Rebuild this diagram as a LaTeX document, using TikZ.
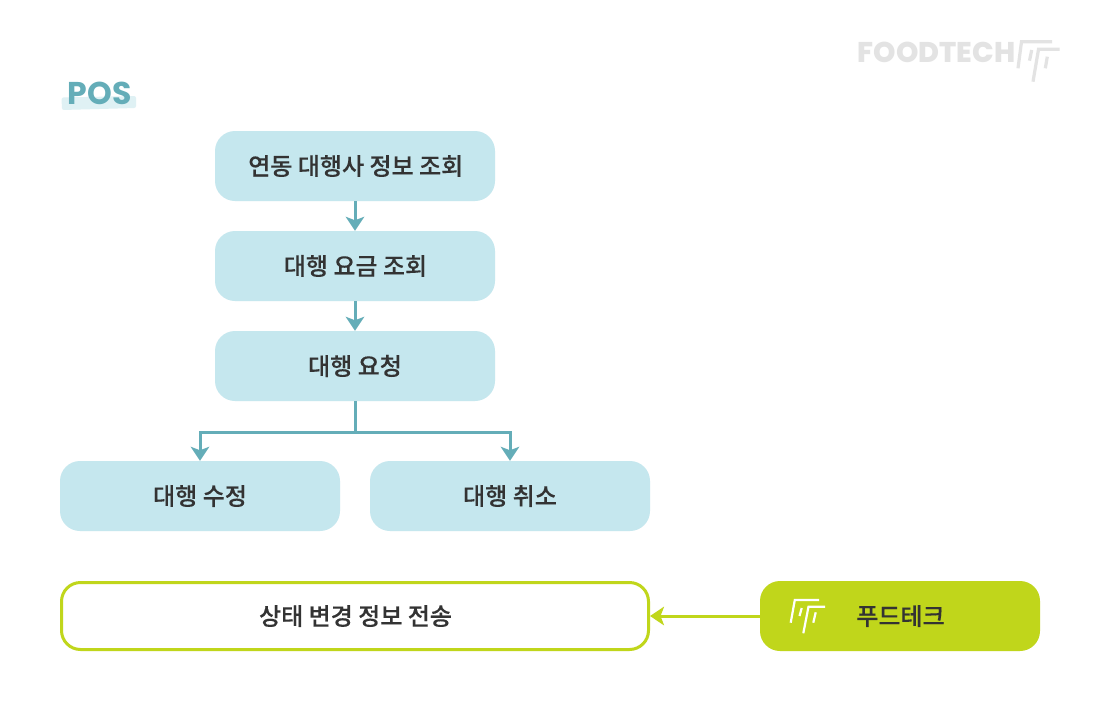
\documentclass[tikz,border=0pt]{standalone}
\usepackage{fontspec}
\usetikzlibrary{arrows.meta}
\newfontfamily\krfont[BoldFont={Noto Sans CJK KR Medium},BoldFeatures={FakeBold=0.2}]{Noto Sans CJK KR}
\newfontfamily\popfont{Poppins}[BoldFont={Poppins Bold}]
\newfontfamily\popheavy{Poppins ExtraBold}
\definecolor{boxblue}{HTML}{C5E7EE}
\definecolor{linkblue}{HTML}{64ADB8}
\definecolor{lime}{HTML}{C0D61B}
\definecolor{logogray}{HTML}{E3E3E3}
\definecolor{ink}{HTML}{333333}
\definecolor{markblue}{HTML}{DFF1F4}
\tikzset{
  x=1pt,y=-1pt,
  flowbox/.style={rectangle,rounded corners=20pt,minimum width=280pt,minimum height=70pt,inner sep=0pt,fill=boxblue,text=ink,font=\krfont\bfseries\fontsize{24pt}{28pt}\selectfont},
  limebox/.style={flowbox,fill=lime},
  outlinebox/.style={flowbox,fill=white,draw=lime,line width=3pt,minimum width=587pt,minimum height=67pt,rounded corners=19pt},
  link/.style={draw=linkblue,line width=3pt},
  linktip/.style={link,-{Stealth[length=14pt,width=18.5pt,inset=3.5pt]}},
  limetip/.style={draw=lime,line width=3pt,-{Stealth[length=14pt,width=18.5pt,inset=3.5pt]}},
  logostroke/.style={line width=#1,line cap=butt}
}
\begin{document}
\begin{tikzpicture}
\useasboundingbox (0,0) rectangle (1100,720);
\fill[white] (0,0) rectangle (1100,720);
% heading
\fill[markblue,rounded corners=2pt] (61.5,97.5) -- (136,96) -- (136,108) -- (62,110) -- cycle;
\node[inner sep=0pt,text=linkblue,font=\popfont\bfseries\fontsize{31.5pt}{34pt}\selectfont] (pos) at (99.5,93.5) {POS};
% logo top right
\node[inner sep=0pt,text=logogray,font=\popheavy\fontsize{28.5pt}{32pt}\selectfont] (brand) at (936.5,52) {FOODTECH};
\begin{scope}[draw=logogray]
\draw[logostroke=3.2pt] (1052,41.7) -- (1021.5,41.7) -- (1018,68.3);
\draw[logostroke=3.2pt] (1031.7,50) -- (1029.5,60.7);
\draw[logostroke=3.2pt] (1059.5,49.3) -- (1038.5,49.3) -- (1033,81.7);
\draw[logostroke=3.2pt] (1047.3,56.7) -- (1045.3,68.3);
\end{scope}
% boxes
\node[flowbox] (a) at (355,166) {\raisebox{-1pt}{\hspace{1.5pt}연동 대행사 정보 조회}};
\node[flowbox] (b) at (355,266) {\raisebox{-1pt}{\hspace{1pt}대행 요금 조회}};
\node[flowbox] (c) at (355,366) {\raisebox{-1pt}{대행 요청}};
\node[flowbox] (d) at (200,496) {\raisebox{-1pt}{대행 수정}};
\node[flowbox] (e) at (510,496) {\raisebox{-1pt}{대행 취소}};
\node[outlinebox] (f) at (355,616) {\raisebox{-1pt}{\hspace{1pt}상태 변경 정보 전송}};
\node[limebox] (g) at (900,616) {\raisebox{-1pt}{\hspace{1pt}푸드테크}};
% small logo
\begin{scope}[draw=white]
\draw[logostroke=2.2pt] (819,600) -- (794.8,600) -- (790.7,622.7);
\draw[logostroke=2.2pt] (801.7,608) -- (799.5,616);
\draw[logostroke=2.2pt] (825,606.7) -- (808.5,606.7) -- (803.3,633.3);
\draw[logostroke=2.2pt] (815.7,612.3) -- (813.3,622.7);
\end{scope}
% connectors
\coordinate (split) at (355,432);
\draw[linktip] (a) -- (b);
\draw[linktip] (b) -- (c);
\draw[link] (c) -- (split);
\draw[linktip] (split) -| (d.north);
\draw[linktip] (split) -| (e.north);
\draw[limetip] (g) -- (f.east);
\end{tikzpicture}
\end{document}
